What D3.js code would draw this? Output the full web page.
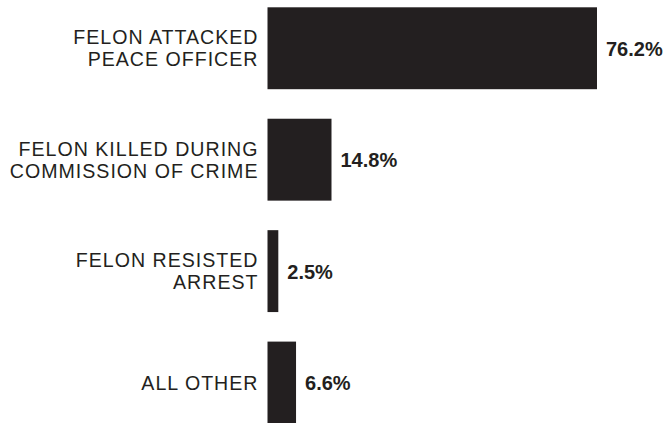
<!DOCTYPE html>
<html><head><meta charset="utf-8">
<script src="https://cdn.jsdelivr.net/npm/d3@7"></script>
<style>body{margin:0;background:#fff}svg{display:block}</style>
</head><body>
<script>
const categories = ["FELON ATTACKED|PEACE OFFICER", "FELON KILLED DURING|COMMISSION OF CRIME", "FELON RESISTED|ARREST", "ALL OTHER"];
const values = [76.2, 14.8, 2.5, 6.6];
const valueLabels = ["76.2%", "14.8%", "2.5%", "6.6%"];

const W = 668, H = 423;
const ink = "#231f20";
const svg = d3.select("body").append("svg").attr("width", W).attr("height", H);

const x = d3.scaleLinear().domain([0, 76.2]).range([267.5, 597]);
const y = d3.scaleBand().domain(categories).range([7.3, 423.5]).paddingInner(0.265).paddingOuter(0);

const g = svg.append("g");
categories.forEach((c, i) => {
  const y0 = y(c), bw = y.bandwidth(), cy = y0 + bw / 2;
  g.append("rect").attr("x", x(0)).attr("y", y0).attr("width", x(values[i]) - x(0)).attr("height", bw).attr("fill", ink);
  const lines = c.split("|");
  const lh = 22;
  lines.forEach((ln, j) => {
    g.append("text").attr("x", 258.5).attr("text-anchor", "end")
      .attr("y", cy + 7 + (j - (lines.length - 1) / 2) * lh)
      .attr("font-family", "Liberation Sans, Arial, sans-serif").attr("font-size", 19.6)
      .attr("letter-spacing", 1.0).attr("fill", ink).text(ln);
  });
  g.append("text").attr("x", x(values[i]) + 9).attr("y", cy + 7.5)
    .attr("font-family", "Liberation Sans, Arial, sans-serif").attr("font-weight", "bold")
    .attr("font-size", 20).attr("fill", ink).text(valueLabels[i]);
});
</script>
</body></html>
